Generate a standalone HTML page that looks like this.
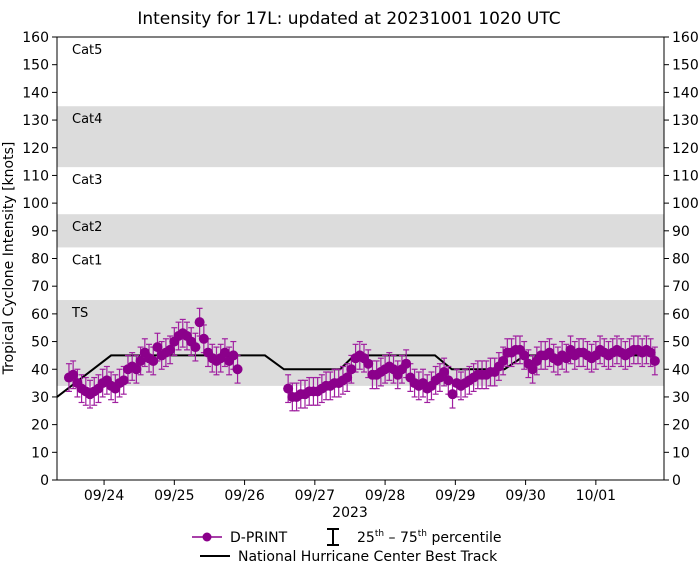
<!DOCTYPE html>
<html><head><meta charset="utf-8"><style>
body{margin:0;background:#fff;font-family:"Liberation Sans","DejaVu Sans",sans-serif}
svg text{font-family:"DejaVu Sans","Liberation Sans",sans-serif}
</style></head><body>
<svg id="c" width="699" height="571" xmlns="http://www.w3.org/2000/svg"></svg>
<script>
const seg1Times=[-0.50,-0.44,-0.38,-0.32,-0.26,-0.20,-0.14,-0.08,-0.02,0.04,0.10,0.16,0.22,0.28,0.34,0.40,0.46,0.52,0.58,0.64,0.70,0.76,0.82,0.88,0.94,1.00,1.06,1.12,1.18,1.24,1.30,1.36,1.42,1.48,1.54,1.60,1.66,1.72,1.78,1.84,1.90];
const seg1Values=[37,38,35,33,32,31,32,33,35,36,34,33,35,36,40,41,40,43,46,44,43,48,45,46,47,50,52,53,52,50,48,57,51,46,44,43,44,46,43,45,40];
const seg2Times=[2.62,2.68,2.74,2.80,2.86,2.92,2.98,3.04,3.10,3.16,3.22,3.28,3.34,3.40,3.46,3.52,3.58,3.64,3.70,3.76,3.82,3.88,3.94,4.00,4.06,4.12,4.18,4.24,4.30,4.36,4.42,4.48,4.54,4.60,4.66,4.72,4.78,4.84,4.90,4.96,5.02,5.08,5.14,5.20,5.26,5.32,5.38,5.44,5.50,5.56,5.62,5.68,5.74,5.80,5.86,5.92,5.98,6.04,6.10,6.16,6.22,6.28,6.34,6.40,6.46,6.52,6.58,6.64,6.70,6.76,6.82,6.88,6.94,7.00,7.06,7.12,7.18,7.24,7.30,7.36,7.42,7.48,7.54,7.60,7.66,7.72,7.78,7.84];
const seg2Values=[33,30,30,31,31,32,32,32,33,34,34,35,35,36,37,40,44,45,44,42,38,38,39,40,41,40,38,40,42,37,35,34,35,33,34,36,37,39,36,31,35,34,35,36,37,38,38,38,39,39,41,43,46,46,47,47,45,42,40,43,45,45,46,44,43,45,44,47,45,46,46,45,44,45,47,46,45,46,47,46,45,46,47,47,46,47,46,43];
const bestTimes=[-0.67,0.10,2.29,2.56,3.36,3.56,4.71,4.95,5.70,5.99,7.85];
const bestValues=[30,45,45,40,40,45,45,40,40,45,45];
const xTickLabels=["09/24","09/25","09/26","09/27","09/28","09/29","09/30","10/01"];
const yTicks=[0,10,20,30,40,50,60,70,80,90,100,110,120,130,140,150,160];
const bands=[[34,65,"TS"],[65,84,"Cat1"],[84,96,"Cat2"],[96,113,"Cat3"],[113,135,"Cat4"],[135,160,"Cat5"]];
const errHalf=5;

const L=57,R=664,T=37,B=480,d0=-0.67,d1=7.97;
const X=d=>L+(d-d0)/(d1-d0)*(R-L);
const Y=v=>B-v/160*(B-T);
const svg=document.getElementById('c');
const NS="http://www.w3.org/2000/svg";
function mk(tag,attrs,name,txt){const e=document.createElementNS(NS,tag);for(const k in attrs)e.setAttribute(k,attrs[k]);


if(txt!==undefined)e.textContent=txt;svg.appendChild(e);return e;}

bands.forEach((b,i)=>{
 if(i%2===0) mk('rect',{x:L,y:Y(b[1]),width:R-L,height:Y(b[0])-Y(b[1]),fill:'#dcdcdc'},'category-band');
 mk('text',{x:72,y:Y(b[1])+17,'font-size':13,fill:'#000'},'band-label',b[2]);
});
mk('text',{x:349,y:24,'font-size':17,'text-anchor':'middle'},'chart-title','Intensity for 17L: updated at 20231001 1020 UTC');
yTicks.forEach(v=>{
 mk('line',{x1:L-5,x2:L,y1:Y(v),y2:Y(v),stroke:'#000'},'y-tick');
 mk('line',{x1:R,x2:R+5,y1:Y(v),y2:Y(v),stroke:'#000'},'y-tick-right');
 mk('text',{x:L-8,y:Y(v)+5,'font-size':14,'text-anchor':'end'},'y-tick-label',v);
 mk('text',{x:R+8,y:Y(v)+5,'font-size':14},'y-tick-label-right',v);
});
xTickLabels.forEach((s,i)=>{
 mk('line',{x1:X(i),x2:X(i),y1:B,y2:B+5,stroke:'#000'},'x-tick');
 mk('text',{x:X(i),y:B+20,'font-size':14,'text-anchor':'middle'},'x-tick-label',s);
});
mk('text',{x:350,y:517,'font-size':14,'text-anchor':'middle'},'x-axis-title','2023');
mk('text',{x:0,y:0,'font-size':14,'text-anchor':'middle',transform:'translate(13,258) rotate(-90)'},'y-axis-title','Tropical Cyclone Intensity [knots]');

mk('polyline',{points:bestTimes.map((t,i)=>X(t)+','+Y(bestValues[i])).join(' '),fill:'none',stroke:'#000','stroke-width':2},'best-track-line');

function drawSeg(ts,vs){ts.forEach((t,i)=>{const x=X(t),v=vs[i];
 mk('line',{x1:x,x2:x,y1:Y(v-errHalf),y2:Y(v+errHalf),stroke:'#a020a0','stroke-width':1.2},'error-bar');
 mk('line',{x1:x-3,x2:x+3,y1:Y(v+errHalf),y2:Y(v+errHalf),stroke:'#a020a0','stroke-width':1.2},'error-cap');
 mk('line',{x1:x-3,x2:x+3,y1:Y(v-errHalf),y2:Y(v-errHalf),stroke:'#a020a0','stroke-width':1.2},'error-cap');
});
ts.forEach((t,i)=>mk('circle',{cx:X(t),cy:Y(vs[i]),r:5,fill:'#8b008b'},'dprint-point'));}
drawSeg(seg1Times,seg1Values);drawSeg(seg2Times,seg2Values);

mk('rect',{x:L,y:T,width:R-L,height:B-T,fill:'none',stroke:'#000','stroke-width':1},'plot-frame');
mk('line',{x1:192,x2:222,y1:537,y2:537,stroke:'#8b008b','stroke-width':1.5},'legend-dprint-line');
mk('circle',{cx:207,cy:537,r:4.5,fill:'#8b008b'},'legend-dprint-marker');
mk('text',{x:230,y:542,'font-size':14},'legend-dprint-label','D-PRINT');
mk('path',{d:'M327 529H339M333 529V545M327 545H339',stroke:'#000','stroke-width':2,fill:'none'},'legend-percentile-icon');
const t=mk('text',{x:357,y:542,'font-size':14},'legend-percentile-label');
t.innerHTML='25<tspan font-size="9" dy="-6">th</tspan><tspan dy="6"> – 75</tspan><tspan font-size="9" dy="-6">th</tspan><tspan dy="6"> percentile</tspan>';
mk('line',{x1:200,x2:230,y1:556,y2:556,stroke:'#000','stroke-width':2},'legend-besttrack-line');
mk('text',{x:238,y:561,'font-size':14},'legend-besttrack-label','National Hurricane Center Best Track');
</script>
</body></html>
